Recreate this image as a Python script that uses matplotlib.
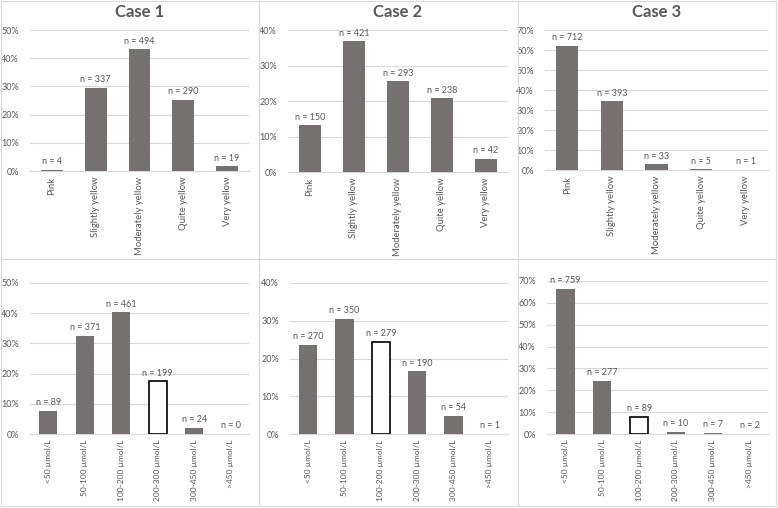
import matplotlib
matplotlib.use("Agg")
import matplotlib.pyplot as plt
from matplotlib.patches import Rectangle
from matplotlib.ticker import PercentFormatter

plt.rcParams["font.family"] = ["Lato", "DejaVu Sans"]

# data
colour_cats = ["Pink", "Slightly yellow", "Moderately yellow", "Quite yellow", "Very yellow"]
bili_cats = ["<50 µmol/L", "50-100 µmol/L", "100-200 µmol/L", "200-300 µmol/L",
             "300-450 µmol/L", ">450 µmol/L"]

case1_colour = [4, 337, 494, 290, 19]
case2_colour = [150, 421, 293, 238, 42]
case3_colour = [712, 393, 33, 5, 1]

case1_bili = [89, 371, 461, 199, 24, 0]
case2_bili = [270, 350, 279, 190, 54, 1]
case3_bili = [759, 277, 89, 10, 7, 2]

# white (outlined) bar in the bottom row
case1_mark = 3
case2_mark = 2
case3_mark = 2

titles = ["Case 1", "Case 2", "Case 3"]

BAR = "#767171"
TXT = "#595959"
GRID = "#d9d9d9"

W, H = 778, 508
fig = plt.figure(figsize=(W / 100, H / 100), dpi=100)
fig.patch.set_facecolor("white")


def px_axes(x0, y0, x1, y1):
    # pixel box (top-left origin) -> figure fraction
    return fig.add_axes([x0 / W, 1 - y1 / H, (x1 - x0) / W, (y1 - y0) / H])


def draw(ax, cats, counts, ymax, mark=None, labsize=6.8):
    total = sum(counts)
    share = [c / total for c in counts]
    xs = range(len(cats))
    for i, s in enumerate(share):
        if i == mark:
            ax.bar(i, s, width=0.5, color="white", edgecolor="black", linewidth=1.2, zorder=3)
        else:
            ax.bar(i, s, width=0.5, color=BAR, zorder=3)
        ax.text(i, s + ymax * 0.025, "n = %d" % counts[i], ha="center", va="bottom",
                fontsize=6.5, color=TXT)
    ax.set_xlim(-0.5, len(cats) - 0.5)
    ax.set_ylim(0, ymax)
    ax.set_yticks([t / 100 for t in range(0, int(round(ymax * 100)) + 1, 10)])
    ax.yaxis.set_major_formatter(PercentFormatter(1.0, decimals=0))
    ax.set_xticks(list(xs))
    ax.set_xticklabels(cats, rotation=90, fontsize=labsize, color=TXT)
    ax.tick_params(axis="y", labelsize=6.5, labelcolor=TXT, length=0, pad=8)
    ax.tick_params(axis="x", length=0, pad=4)
    ax.grid(axis="y", color=GRID, linewidth=0.8, zorder=0)
    for sp in ["top", "right", "left"]:
        ax.spines[sp].set_visible(False)
    ax.spines["bottom"].set_color(GRID)


# panel frames
for x0, x1 in [(1, 259), (259, 518), (518, 776)]:
    for y0, y1 in [(1, 259), (259, 506)]:
        fig.patches.append(Rectangle((x0 / W, 1 - y1 / H), (x1 - x0) / W, (y1 - y0) / H,
                                     transform=fig.transFigure, fill=False,
                                     edgecolor=GRID, linewidth=0.8))

top_boxes = [(30, 30, 249, 171), (288, 30, 508, 172), (545, 30, 768, 170)]
bot_boxes = [(30, 283, 249, 434), (290, 283, 508, 434), (547, 281, 768, 434)]

top_data = [(case1_colour, 0.5), (case2_colour, 0.4), (case3_colour, 0.7)]
bot_data = [(case1_bili, 0.5, case1_mark), (case2_bili, 0.4, case2_mark),
            (case3_bili, 0.7, case3_mark)]

for k in range(3):
    ax = px_axes(*top_boxes[k])
    draw(ax, colour_cats, top_data[k][0], top_data[k][1], labsize=6.8)
    cx = (top_boxes[k][0] + top_boxes[k][2]) / 2
    fig.text(cx / W, 1 - 12 / H, titles[k], ha="center", va="center",
             fontsize=12, fontweight="bold", color=TXT)

    ax = px_axes(*bot_boxes[k])
    draw(ax, bili_cats, bot_data[k][0], bot_data[k][1], bot_data[k][2], labsize=6)

fig.savefig("out.png", dpi=100)
